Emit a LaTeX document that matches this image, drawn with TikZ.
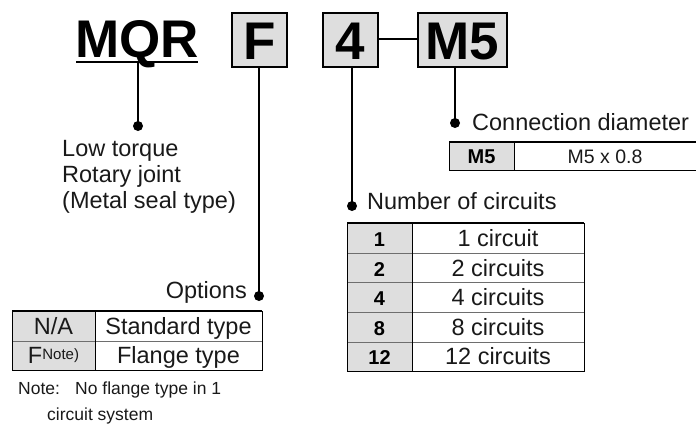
\documentclass[tikz,border=0pt]{standalone}
\usepackage{fontspec}
\setmainfont{Liberation Sans}
\definecolor{cellgray}{RGB}{222,222,222}
\definecolor{txt}{RGB}{25,25,25}
\definecolor{rule}{RGB}{110,110,110}
\begin{document}
\begin{tikzpicture}[x=1pt,y=-1pt,
  hdr/.style={font=\fontsize{53}{53}\selectfont\bfseries, inner sep=0pt, anchor=base},
  hbox/.style={draw, fill=cellgray, line width=2pt, inner sep=0pt, minimum height=54pt},
  conn/.style={line width=2pt},
  lbl/.style={font=\fontsize{23.5}{26}\selectfont, text=txt, inner sep=0pt},
  cell/.style={font=\fontsize{23.5}{26}\selectfont, text=txt, inner sep=0pt, anchor=base},
  bcell/.style={font=\fontsize{20}{22}\selectfont\bfseries, inner sep=0pt, anchor=base},
  notet/.style={font=\fontsize{17.5}{20}\selectfont, text=txt, inner sep=0pt, anchor=base west},
  dot/.style={circle, fill=black, inner sep=0pt, minimum size=10pt}
]
\useasboundingbox (0,0) rectangle (696,426);

% ---- header ----
\node[hdr] (mqr) at (137,57) {MQR};
\draw[conn] (76,62) coordinate (ulL) -- (198,62) coordinate (ulR);
\coordinate (mqrb) at (138,62);

\node[hbox, minimum width=55pt] (Fb) at (259.5,40) {};
\node[hdr] (Ft) at (259.5,59) {F};
\node[hbox, minimum width=55pt] (Nb) at (350.5,40) {};
\node[hdr] (Nt) at (350.5,59) {4};
\node[hbox, minimum width=89pt] (Mb) at (462,40) {};
\node[hdr] (Mt) at (462,59) {M5};
\draw[conn] (Nb.east |- 0,39) -- (Mb.west |- 0,39);

% ---- dots ----
\node[dot] (d1) at (138,126) {};
\node[dot] (d2) at (259,296) {};
\node[dot] (d3) at (352,206) {};
\node[dot] (d4) at (455,123) {};

\draw[conn] (mqrb) -- (d1.center);
\draw[conn] (Fb.south -| d2) -- (d2.center);
\draw[conn] (Nb.south -| d3) -- (d3.center);
\draw[conn] (Mb.south -| d4) -- (d4.center);

% ---- labels ----
\node[lbl, anchor=base west] (l1) at (62,156) {Low torque};
\node[lbl, anchor=base west] (l2) at (62,182) {Rotary joint};
\node[lbl, anchor=base west] (l3) at (62,208) {(Metal seal type)};
\node[lbl, anchor=base east] (lopt) at (247,298) {Options};
\node[lbl, anchor=base west] (lnum) at (367,209) {Number of circuits};
\node[lbl, anchor=base west] (lcon) at (472,130) {Connection diameter};

% ---- options table ----
\fill[cellgray] (12,311) rectangle (95,370);
\draw[rule, line width=1pt] (12,341) -- (262,341);
\draw[line width=1pt] (95,311) -- (95,370);
\draw[line width=1pt] (12,311) rectangle (262,370);
\draw[line width=2pt] (12,311) -- (262,311);
\node[cell] (o1a) at (53.5,334) {N/A};
\node[cell] (o1b) at (178.5,334) {Standard type};
\node[cell] (o2a) at (53.5,363) {F\raisebox{4pt}{\fontsize{15}{15}\selectfont Note)}};
\node[cell] (o2b) at (178.5,363) {Flange type};

% ---- circuits table ----
\fill[cellgray] (347,223) rectangle (412,371);
\foreach \yy in {253,282,312,342} \draw[rule, line width=1pt] (347,\yy) -- (584,\yy);
\draw[line width=1pt] (412,223) -- (412,371);
\draw[line width=1pt] (347,223) rectangle (584,371);
\draw[line width=2pt] (347,223) -- (584,223);
\node[bcell] (c1a) at (379.5,246) {1};
\node[cell]  (c1b) at (498,246) {1 circuit};
\node[bcell] (c2a) at (379.5,276) {2};
\node[cell]  (c2b) at (498,276) {2 circuits};
\node[bcell] (c3a) at (379.5,305) {4};
\node[cell]  (c3b) at (498,305) {4 circuits};
\node[bcell] (c4a) at (379.5,335) {8};
\node[cell]  (c4b) at (498,335) {8 circuits};
\node[bcell] (c5a) at (379.5,364) {12};
\node[cell]  (c5b) at (498,364) {12 circuits};

% ---- connection table ----
\fill[cellgray] (449,142) rectangle (514,170);
\draw[line width=1pt] (696,170) -- (449,170) -- (449,142) -- (696,142);
\draw[line width=2pt] (449,142) -- (696,142);
\draw[line width=1pt] (514,142) -- (514,170);
\node[bcell] (m1a) at (481.5,163) {M5};
\node[cell, font=\fontsize{19.5}{21}\selectfont] (m1b) at (605,163) {M5 x 0.8};

% ---- note ----
\node[notet] (n1) at (18,394) {Note:};
\node[notet] (n2) at (75,394) {No flange type in 1};
\node[notet] (n3) at (47,420) {circuit system};
\end{tikzpicture}
\end{document}
